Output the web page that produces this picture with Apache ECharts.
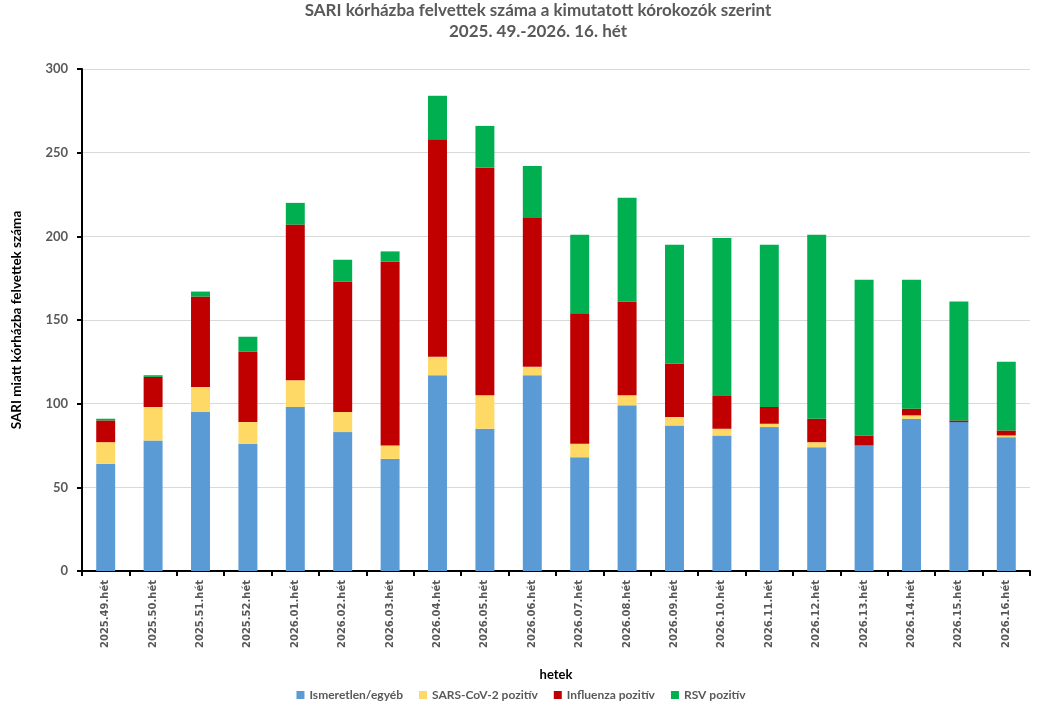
<!DOCTYPE html>
<html>
<head>
<meta charset="utf-8">
<script src="https://cdn.jsdelivr.net/npm/echarts@6/dist/echarts.min.js"></script>
<style>
    html, body { margin: 0; padding: 0; background: #fff; }
    #char1 { width: 1042px; height: 709px; }
</style>
</head>
<body>
<div id="char1"></div>
<script>
// hetek
var weeks = ['2025.49.hét', '2025.50.hét', '2025.51.hét', '2025.52.hét', '2026.01.hét', '2026.02.hét',
    '2026.03.hét', '2026.04.hét', '2026.05.hét', '2026.06.hét', '2026.07.hét', '2026.08.hét',
    '2026.09.hét', '2026.10.hét', '2026.11.hét', '2026.12.hét', '2026.13.hét', '2026.14.hét',
    '2026.15.hét', '2026.16.hét'];
var ismeretlen = [64, 78, 95, 76, 98, 83, 67, 117, 85, 117, 68, 99, 87, 81, 86, 74, 75, 91, 89, 80];
var sars = [13, 20, 15, 13, 16, 12, 8, 11, 20, 5, 8, 6, 5, 4, 2, 3, 0, 2, 0, 1];
var influenza = [13, 18, 54, 42, 93, 78, 110, 130, 136, 89, 78, 56, 32, 20, 10, 14, 6, 4, 1, 3];
var rsv = [1, 1, 3, 9, 13, 13, 6, 26, 25, 31, 47, 62, 71, 94, 97, 110, 93, 77, 71, 41];
var yTicks = [0, 50, 100, 150, 200, 250, 300];

(function () {
    var myChart = echarts.init(document.getElementById('char1'));
    var font = 'Lato, "Open Sans", sans-serif';

    function bar(name, data, color) {
        return {
            name: name,
            type: 'bar',
            stack: 'total',
            barWidth: '40%',
            data: data,
            itemStyle: { color: color }
        };
    }

    var option = {
        animation: false,
        backgroundColor: '#ffffff',
        title: {
            text: 'SARI kórházba felvettek száma a kimutatott kórokozók szerint\n2025. 49.-2026. 16. hét',
            left: 533,
            textAlign: 'center',
            top: 0,
            padding: [0, 5],
            textStyle: {
                color: '#595959',
                fontFamily: font,
                fontWeight: 'bold',
                fontSize: 17,
                lineHeight: 21
            }
        },
        legend: {
            bottom: 3,
            left: 'center',
            itemWidth: 8,
            itemHeight: 8,
            itemGap: 16,
            icon: 'rect',
            textStyle: { color: '#595959', fontFamily: font, fontSize: 12, fontWeight: 'bold' },
            data: ['Ismeretlen/egyéb', 'SARS-CoV-2 pozitív', 'Influenza pozitív', 'RSV pozitív']
        },
        grid: {
            left: 82,
            right: 12,
            top: 69,
            bottom: 138
        },
        xAxis: {
            type: 'category',
            data: weeks,
            name: 'hetek',
            nameLocation: 'middle',
            nameGap: 97,
            nameTextStyle: { color: '#000', fontFamily: font, fontWeight: 'bold', fontSize: 13 },
            axisLine: { lineStyle: { color: '#000', width: 2 } },
            axisTick: { show: true, length: 5, lineStyle: { color: '#000', width: 2 } },
            axisLabel: {
                rotate: 90,
                interval: 0,
                color: '#595959',
                fontWeight: 'bold',
                fontSize: 10,
                fontFamily: 'DejaVu Sans, sans-serif',
                margin: 9
            }
        },
        yAxis: {
            type: 'value',
            min: 0,
            max: yTicks[yTicks.length - 1],
            interval: yTicks[1] - yTicks[0],
            name: 'SARI miatt kórházba felvettek száma',
            nameLocation: 'middle',
            nameGap: 58,
            nameTextStyle: { color: '#000', fontFamily: font, fontWeight: 'bold', fontSize: 13.5 },
            axisLine: { show: true, lineStyle: { color: '#000', width: 2 } },
            axisTick: { show: true, length: 5, lineStyle: { color: '#000', width: 2 } },
            axisLabel: {
                color: '#595959',
                fontWeight: 'bold',
                fontSize: 13,
                fontFamily: font,
                margin: 14
            },
            splitLine: { lineStyle: { color: '#d9d9d9', width: 1 } }
        },
        series: [
            bar('Ismeretlen/egyéb', ismeretlen, '#5b9bd5'),
            bar('SARS-CoV-2 pozitív', sars, '#ffd966'),
            bar('Influenza pozitív', influenza, '#c00000'),
            bar('RSV pozitív', rsv, '#00b050')
        ]
    };

    myChart.setOption(option);
    window.addEventListener('resize', function () { myChart.resize(); })
})();
</script>
</body>
</html>
